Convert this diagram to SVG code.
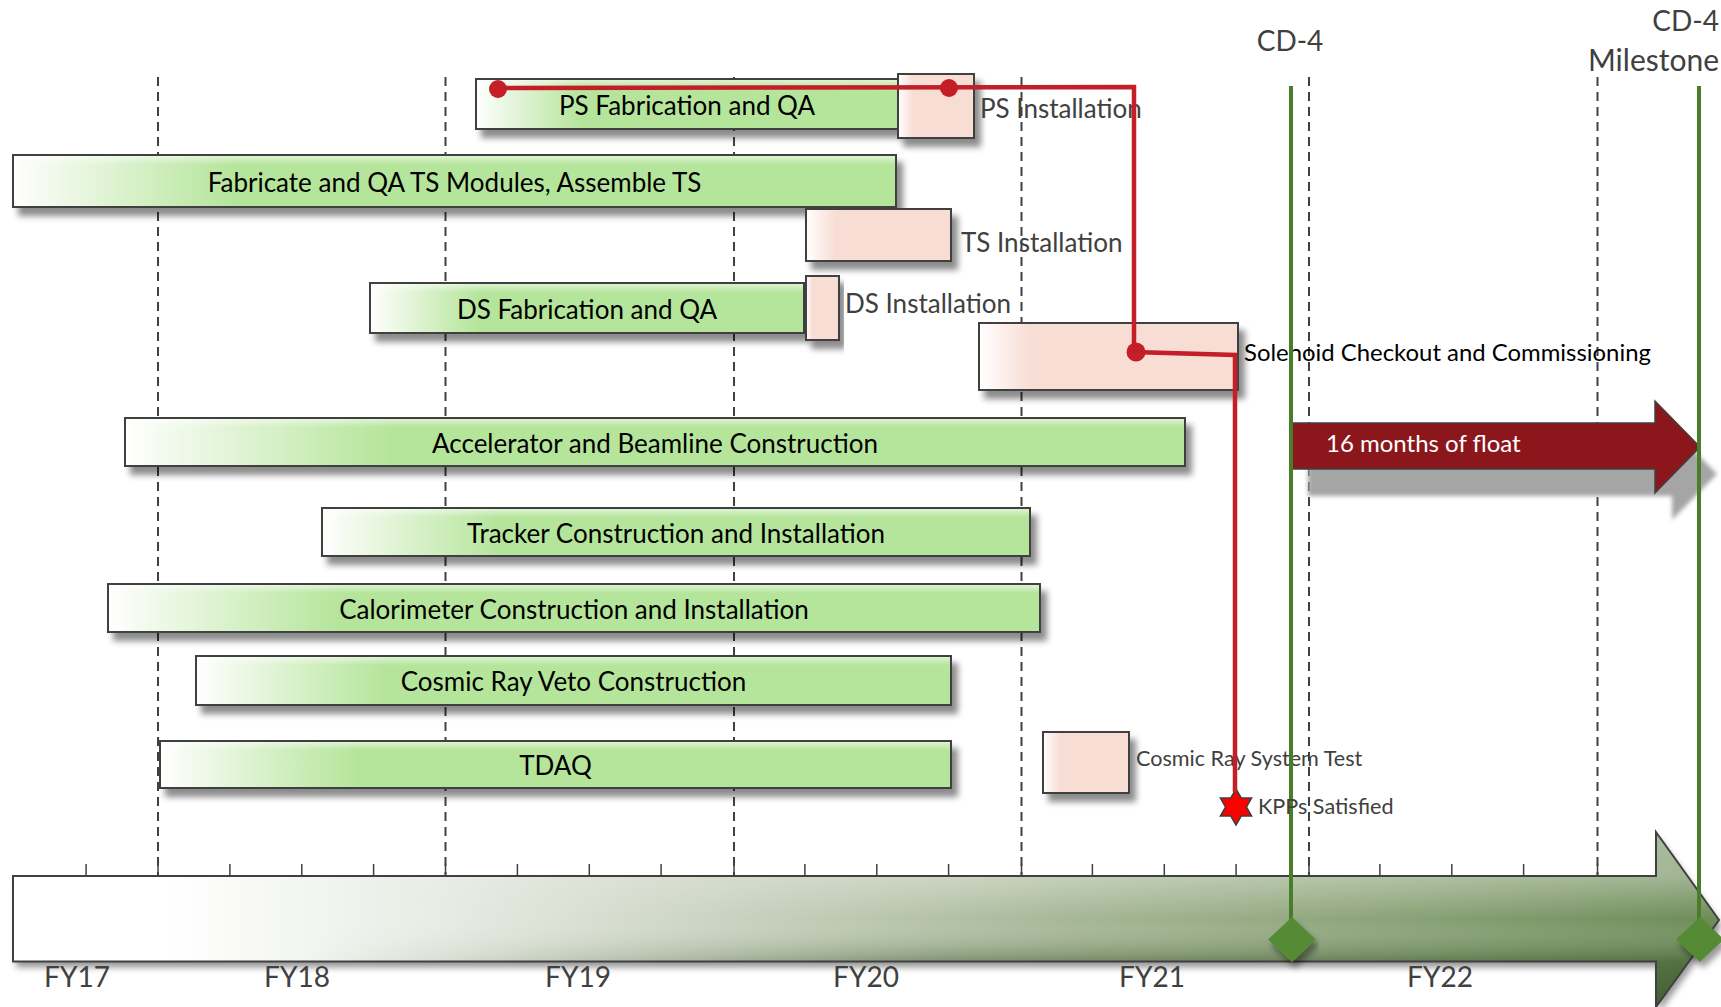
<svg xmlns="http://www.w3.org/2000/svg" width="1721" height="1007" viewBox="0 0 1721 1007">
<defs>
<style>
text{font-family:Lato,"Noto Sans","Liberation Sans",sans-serif}
.bar{stroke:#3f3f3f;stroke-width:2;fill:url(#gGreen)}
.gloss{fill:url(#gGloss);stroke:none}
.box{stroke:#3f3f3f;stroke-width:2;fill:url(#gPink)}
.bt{font-size:26px;fill:#000;text-anchor:middle}
.lb{font-size:26px;fill:#404040}
.sm{font-size:21.6px;fill:#404040}
.fy{font-size:28px;fill:#404040;text-anchor:middle}
.cd{font-size:28px;fill:#404040}
.dash{stroke:#404040;stroke-width:2;stroke-dasharray:9 6;fill:none}
.tick{stroke:#404040;stroke-width:1.5}
.red{stroke:#c41e28;stroke-width:4.5;fill:none;stroke-linejoin:miter}
.dot{fill:#c41e28}
.gl{stroke:#4a7d29;stroke-width:4}
.dia{fill:#548b35}
</style>
<linearGradient id="gGreen" x1="0" y1="0" x2="1" y2="0">
<stop offset="0" stop-color="#ffffff"/>
<stop offset="0.04" stop-color="#f3faee"/>
<stop offset="0.25" stop-color="#b5e59b"/>
<stop offset="1" stop-color="#b5e59b"/>
</linearGradient>
<linearGradient id="gGloss" x1="0" y1="0" x2="0" y2="1">
<stop offset="0" stop-color="#ffffff" stop-opacity="0.55"/>
<stop offset="0.18" stop-color="#ffffff" stop-opacity="0"/>
</linearGradient>
<linearGradient id="gPink" x1="0" y1="0" x2="1" y2="0">
<stop offset="0" stop-color="#ffffff"/>
<stop offset="0.2" stop-color="#f8ddd4"/>
<stop offset="1" stop-color="#f8ddd4"/>
</linearGradient>
<linearGradient id="gAxis" gradientUnits="userSpaceOnUse" x1="13" y1="0" x2="1719" y2="0">
<stop offset="0" stop-color="#ffffff"/>
<stop offset="0.09" stop-color="#ffffff"/>
<stop offset="0.25" stop-color="#e8ece4"/>
<stop offset="0.45" stop-color="#c4ceba"/>
<stop offset="0.62" stop-color="#a6b796"/>
<stop offset="0.8" stop-color="#8ca479"/>
<stop offset="1" stop-color="#6d8c58"/>
</linearGradient>
<linearGradient id="gAxisV" gradientUnits="userSpaceOnUse" x1="0" y1="832" x2="0" y2="1007">
<stop offset="0" stop-color="#ffffff" stop-opacity="0.4"/>
<stop offset="0.25" stop-color="#ffffff" stop-opacity="0.35"/>
<stop offset="0.5" stop-color="#ffffff" stop-opacity="0"/>
<stop offset="0.74" stop-color="#1f3d10" stop-opacity="0.35"/>
<stop offset="1" stop-color="#1f3d10" stop-opacity="0.6"/>
</linearGradient>
<linearGradient id="gFade" gradientUnits="userSpaceOnUse" x1="300" y1="0" x2="950" y2="0">
<stop offset="0" stop-color="#000"/>
<stop offset="1" stop-color="#fff"/>
</linearGradient>
<mask id="mFade" maskUnits="userSpaceOnUse" x="0" y="800" width="1721" height="207">
<rect x="0" y="800" width="1721" height="207" fill="url(#gFade)"/>
</mask>
<filter id="sh" x="-10%" y="-30%" width="125%" height="190%">
<feDropShadow dx="6" dy="8" stdDeviation="3" flood-color="#000" flood-opacity="0.45"/>
</filter>
<filter id="shA" x="-5%" y="-20%" width="110%" height="150%">
<feDropShadow dx="3" dy="6" stdDeviation="3" flood-color="#000" flood-opacity="0.4"/>
</filter>
<filter id="blur" x="-5%" y="-20%" width="110%" height="140%">
<feGaussianBlur stdDeviation="2"/>
</filter>
</defs>
<rect width="1721" height="1007" fill="#ffffff"/>

<g id="gridlines">
<line class="dash" x1="158" y1="77" x2="158" y2="876"/>
<line class="dash" x1="445.5" y1="77" x2="445.5" y2="876"/>
<line class="dash" x1="734" y1="77" x2="734" y2="876"/>
<line class="dash" x1="1021.5" y1="77" x2="1021.5" y2="876"/>
<line class="dash" x1="1309" y1="77" x2="1309" y2="876"/>
<line class="dash" x1="1597.5" y1="77" x2="1597.5" y2="876"/>
</g>

<g id="timeline-axis">
<g filter="url(#shA)">
<path d="M13,876 H1656 V832 L1719,920 L1656,1007 V961.5 H13 Z" fill="url(#gAxis)"/>
</g>
<path d="M13,876 H1656 V832 L1719,920 L1656,1007 V961.5 H13 Z" fill="url(#gAxisV)" mask="url(#mFade)"/>
<path d="M13,876 H1656 V832 L1719,920 L1656,1007 V961.5 H13 Z" fill="none" stroke="#404040" stroke-width="2"/>
<g class="tick">
<line x1="86.1" y1="864" x2="86.1" y2="876"/><line x1="158" y1="864" x2="158" y2="876"/>
<line x1="229.9" y1="864" x2="229.9" y2="876"/><line x1="301.8" y1="864" x2="301.8" y2="876"/>
<line x1="373.6" y1="864" x2="373.6" y2="876"/><line x1="445.5" y1="864" x2="445.5" y2="876"/>
<line x1="517.4" y1="864" x2="517.4" y2="876"/><line x1="589.3" y1="864" x2="589.3" y2="876"/>
<line x1="661.1" y1="864" x2="661.1" y2="876"/><line x1="734" y1="864" x2="734" y2="876"/>
<line x1="804.9" y1="864" x2="804.9" y2="876"/><line x1="876.8" y1="864" x2="876.8" y2="876"/>
<line x1="948.6" y1="864" x2="948.6" y2="876"/><line x1="1021.5" y1="864" x2="1021.5" y2="876"/>
<line x1="1092.4" y1="864" x2="1092.4" y2="876"/><line x1="1164.3" y1="864" x2="1164.3" y2="876"/>
<line x1="1236.1" y1="864" x2="1236.1" y2="876"/><line x1="1309" y1="864" x2="1309" y2="876"/>
<line x1="1379.9" y1="864" x2="1379.9" y2="876"/><line x1="1451.8" y1="864" x2="1451.8" y2="876"/>
<line x1="1523.6" y1="864" x2="1523.6" y2="876"/><line x1="1597.5" y1="864" x2="1597.5" y2="876"/>
</g>
<text class="fy" x="77" y="987">FY17</text>
<text class="fy" x="297" y="987">FY18</text>
<text class="fy" x="578" y="987">FY19</text>
<text class="fy" x="866" y="987">FY20</text>
<text class="fy" x="1152" y="987">FY21</text>
<text class="fy" x="1440" y="987">FY22</text>
</g>

<g id="ps-fab">
<rect class="bar" x="476" y="79" width="422" height="50" filter="url(#sh)"/>
<rect class="gloss" x="477" y="80" width="420" height="48"/>
<text class="bt" x="687" y="115">PS Fabrication and QA</text>
</g>
<g id="ps-install">
<rect class="box" x="898" y="74" width="76" height="64" filter="url(#sh)"/>
<text class="lb" x="980" y="118">PS Installation</text>
</g>
<g id="ts-fab">
<rect class="bar" x="13" y="155" width="883" height="52" filter="url(#sh)"/>
<rect class="gloss" x="14" y="156" width="881" height="50"/>
<text class="bt" x="454.5" y="191.5">Fabricate and QA TS Modules, Assemble TS</text>
</g>
<g id="ts-install">
<rect class="box" x="806" y="209" width="145" height="52" filter="url(#sh)"/>
<text class="lb" x="961" y="252">TS Installation</text>
</g>
<g id="ds-fab">
<rect class="bar" x="370" y="283" width="434" height="50" filter="url(#sh)"/>
<rect class="gloss" x="371" y="284" width="432" height="48"/>
<text class="bt" x="587" y="318.5">DS Fabrication and QA</text>
</g>
<g id="ds-install">
<rect class="box" x="806" y="276" width="33" height="64" filter="url(#sh)"/>
<text class="lb" x="845" y="313">DS Installation</text>
</g>
<g id="solenoid-checkout">
<rect class="box" x="979" y="323" width="259" height="67" filter="url(#sh)"/>
<text x="1244" y="361" style="font-size:23.9px;fill:#000">Solenoid Checkout and Commissioning</text>
</g>
<g id="accelerator">
<rect class="bar" x="125" y="418" width="1060" height="48" filter="url(#sh)"/>
<rect class="gloss" x="126" y="419" width="1058" height="46"/>
<text class="bt" x="655" y="452.5">Accelerator and Beamline Construction</text>
</g>
<g id="tracker">
<rect class="bar" x="322" y="508" width="708" height="48" filter="url(#sh)"/>
<rect class="gloss" x="323" y="509" width="706" height="46"/>
<text class="bt" x="676" y="542.5">Tracker Construction and Installation</text>
</g>
<g id="calorimeter">
<rect class="bar" x="108" y="584" width="932" height="48" filter="url(#sh)"/>
<rect class="gloss" x="109" y="585" width="930" height="46"/>
<text class="bt" x="574" y="618.5">Calorimeter Construction and Installation</text>
</g>
<g id="crv">
<rect class="bar" x="196" y="656" width="755" height="49" filter="url(#sh)"/>
<rect class="gloss" x="197" y="657" width="753" height="47"/>
<text class="bt" x="573.5" y="690.5">Cosmic Ray Veto Construction</text>
</g>
<g id="tdaq">
<rect class="bar" x="160" y="741" width="791" height="47" filter="url(#sh)"/>
<rect class="gloss" x="161" y="742" width="789" height="45"/>
<text class="bt" x="555.5" y="774.5">TDAQ</text>
</g>
<g id="cosmic-ray-system-test">
<rect class="box" x="1043" y="732" width="86" height="61" filter="url(#sh)"/>
<text class="sm" x="1136" y="766">Cosmic Ray System Test</text>
</g>

<g id="float-arrow">
<path d="M1291,423 H1655 V401 L1700,447 L1655,493 V469 H1291 Z" transform="translate(17,27)" fill="#a5a5a5" filter="url(#blur)"/>
<path d="M1291,423 H1655 V401 L1700,447 L1655,493 V469 H1291 Z" fill="#8b171d" stroke="#404040" stroke-width="1.5"/>
<text x="1326" y="452" style="font-size:24px;fill:#ffffff">16 months of float</text>
</g>

<g id="cd4">
<text class="cd" x="1290" y="51" text-anchor="middle">CD-4</text>
<line class="gl" x1="1291" y1="86" x2="1291" y2="932"/>
<path class="dia" d="M1292,917 L1316,939.5 L1292,962 L1268,939.5 Z" filter="url(#shA)"/>
</g>
<g id="cd4-milestone">
<text class="cd" x="1719" y="31" text-anchor="end">CD-4</text>
<text class="cd" x="1719" y="71" text-anchor="end" style="font-size:30px">Milestone</text>
<line class="gl" x1="1699" y1="86" x2="1699" y2="932"/>
<path class="dia" d="M1700,917 L1724,939.5 L1700,962 L1676,939.5 Z" filter="url(#shA)"/>
</g>

<g id="kpps">
<polygon points="1236,789 1241.2,798 1251.6,798 1246.4,807 1251.6,816 1241.2,816 1236,825 1230.8,816 1220.4,816 1225.6,807 1220.4,798 1230.8,798" fill="#ff0000" stroke="#404040" stroke-width="1.5"/>
<text class="sm" x="1258" y="814">KPPs Satisfied</text>
</g>

<g id="connectors">
<path class="red" d="M498,88 L1134,87 L1134,352 L1235,355 L1235,792"/>
<circle class="dot" cx="498" cy="89" r="9"/>
<circle class="dot" cx="949" cy="88" r="9"/>
<circle class="dot" cx="1136" cy="352" r="9.5"/>
</g>
</svg>
